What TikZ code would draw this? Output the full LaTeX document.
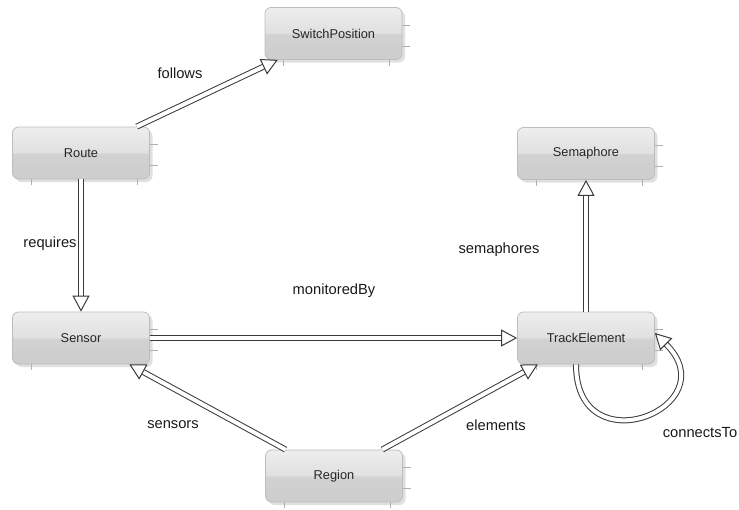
\documentclass[tikz,border=0pt]{standalone}
\usepackage{fontspec}
\setmainfont{Liberation Sans}
\usetikzlibrary{arrows.meta,shadows}

\definecolor{boxline}{HTML}{BDBDBD}
\definecolor{boxlow}{HTML}{CDCDCD}
\definecolor{boxmid}{HTML}{D2D2D2}
\definecolor{boxhigh}{HTML}{E0E0E0}
\definecolor{boxtop}{HTML}{EEEEEE}
\definecolor{arrowline}{HTML}{3A3A3A}
\definecolor{tickline}{HTML}{B0B0B0}

\pgfdeclareverticalshading{classshade}{100bp}{color(0bp)=(boxlow); color(25bp)=(boxlow); color(50bp)=(boxmid); color(50bp)=(boxhigh); color(75bp)=(boxtop); color(100bp)=(boxtop)}

\tikzset{
  classbox/.style={rectangle, rounded corners=6pt, draw=boxline, line width=0.8pt,
    shading=classshade, minimum width=137pt, minimum height=52pt, inner sep=0pt,
    font=\fontsize{12.8}{15}\selectfont, text=black!85,
    drop shadow={shadow xshift=3pt, shadow yshift=-3pt, fill=black!60, opacity=0.2}},
  assoc/.style={draw=arrowline, line width=1pt, double=white, double distance=4pt,
    -{Triangle[open, fill=white, length=16pt, width=17pt, line width=1pt]}},
  lbl/.style={font=\fontsize{14.7}{17}\selectfont, text=black!90, inner sep=0pt},
  tick/.style={tickline, line width=0.6pt}
}

\begin{document}
\begin{tikzpicture}[x=1pt,y=-1pt]
  \useasboundingbox (0,0) rectangle (739,509);
  % classes
  \node[classbox] (switch) at (333.5,33.5) {SwitchPosition};
  \node[classbox] (route) at (81,153) {Route};
  \node[classbox] (semaphore) at (586,153.5) {Semaphore};
  \node[classbox] (sensor) at (81,338) {Sensor};
  \node[classbox] (track) at (586,338) {TrackElement};
  \node[classbox] (region) at (334,476) {Region};
  % small ticks round the boxes
  \foreach \n in {switch,route,semaphore,sensor,track,region} {
    \draw[tick] ([xshift=19pt]\n.south west) -- ++(0,6);
    \draw[tick] ([xshift=-13pt]\n.south east) -- ++(0,6);
    \draw[tick] ([yshift=-18pt]\n.north east) -- ++(8,0);
    \draw[tick] ([yshift=-39pt]\n.north east) -- ++(8,0);
  }
  % associations
  \draw[assoc] (route) -- (switch);
  \draw[assoc] (route) -- (sensor);
  \draw[assoc] (sensor) -- (track);
  \draw[assoc] (track) -- (semaphore);
  \draw[assoc] (region) -- (sensor);
  \draw[assoc] (region) -- (track);
  \draw[assoc] ([xshift=-10pt]track.south) .. controls +(0,104) and +(74,74) .. ([yshift=5pt]track.east);
  % labels
  \node[lbl] (follows) at (180,73) {follows};
  \node[lbl] (requires) at (50,244) {requires};
  \node[lbl] (monitored) at (334,291) {monitoredBy};
  \node[lbl] (semaphores) at (499,250) {semaphores};
  \node[lbl] (sensors) at (173,425) {sensors};
  \node[lbl] (elements) at (496,425) {elements};
  \node[lbl] (connects) at (700,433) {connectsTo};
\end{tikzpicture}
\end{document}
